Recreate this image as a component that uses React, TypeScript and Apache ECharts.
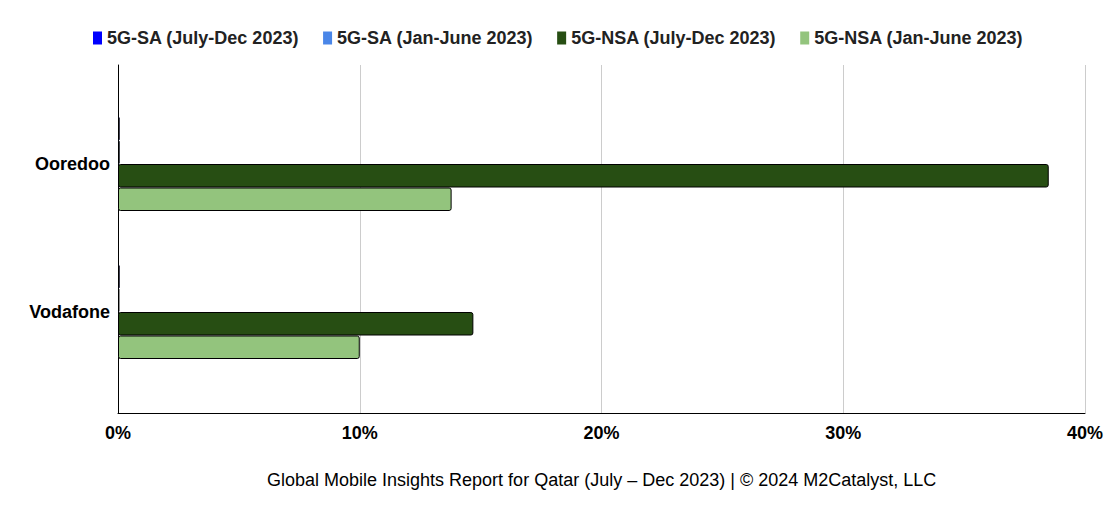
import React, { useEffect, useRef } from "react";
import * as echarts from "echarts";

const categories = ["Ooredoo", "Vodafone"];
const seriesNames = [
  "5G-SA (July-Dec 2023)",
  "5G-SA (Jan-June 2023)",
  "5G-NSA (July-Dec 2023)",
  "5G-NSA (Jan-June 2023)",
];
const saJulDec = [0.0007, 0.0007];
const saJanJun = [0.0007, 0.0006];
const nsaJulDec = [0.385, 0.147];
const nsaJanJun = [0.138, 0.1];
const colors = ["#0000ff", "#4a86e8", "#274e13", "#93c47d"];
const xTicks = [0, 0.1, 0.2, 0.3, 0.4];

const FONT = "Arial, 'Liberation Sans', sans-serif";

export default function App() {
  const ref = useRef<HTMLDivElement>(null);
  useEffect(() => {
    document.body.style.margin = "0";
    const chart = echarts.init(ref.current!, undefined, { renderer: "svg" });
    const values = [saJulDec, saJanJun, nsaJulDec, nsaJanJun];
    chart.setOption({
      animation: false,
      backgroundColor: "#ffffff",
      textStyle: { fontFamily: FONT },
      legend: {
        top: 24,
        left: 88,
        itemWidth: 9,
        itemHeight: 13,
        itemGap: 24,
        icon: "rect",
        itemStyle: { borderWidth: 0 },
        textStyle: { fontFamily: FONT, fontSize: 18, fontWeight: "bold", color: "#222" },
        data: seriesNames,
      },
      grid: [
        { left: 118, top: 65, width: 967, height: 348 },
        { left: 118, top: 90, width: 967, height: 296 },
      ],
      xAxis: [
        {
          gridIndex: 0,
          type: "value",
          min: xTicks[0],
          max: xTicks[xTicks.length - 1],
          interval: 0.1,
          axisLine: { show: true, lineStyle: { color: "#000", width: 1 } },
          axisTick: { show: false },
          splitLine: { show: true, lineStyle: { color: "#cccccc", width: 1 } },
          axisLabel: {
            formatter: (v: number) => Math.round(v * 100) + "%",
            fontFamily: FONT,
            fontSize: 18,
            fontWeight: "bold",
            color: "#000",
            margin: 11,
          },
        },
        {
          gridIndex: 1,
          type: "value",
          min: xTicks[0],
          max: xTicks[xTicks.length - 1],
          show: false,
        },
      ],
      yAxis: [
        {
          gridIndex: 0,
          type: "category",
          data: categories,
          axisLine: { show: true, lineStyle: { color: "#000", width: 1 } },
          axisTick: { show: false },
          axisLabel: { show: false },
          splitLine: { show: false },
        },
        {
          gridIndex: 1,
          type: "category",
          inverse: true,
          data: categories,
          axisLine: { show: false },
          axisTick: { show: false },
          axisLabel: {
            fontFamily: FONT,
            fontSize: 18,
            fontWeight: "bold",
            color: "#000",
            margin: 8,
          },
        },
      ],
      series: seriesNames.map((name, i) => ({
        name,
        type: "bar",
        xAxisIndex: 1,
        yAxisIndex: 1,
        data: values[i],
        barWidth: 23.5,
        barGap: "0%",
        itemStyle: {
          color: colors[i],
          borderColor: "#000",
          borderWidth: 1,
          borderRadius: 2,
        },
      })),
      graphic: [
        {
          type: "text",
          left: 267,
          top: 471,
          style: {
            text: "Global Mobile Insights Report for Qatar (July – Dec 2023) | © 2024 M2Catalyst, LLC",
            fontFamily: FONT,
            fontSize: 18,
            fill: "#000",
          },
        },
      ],
    });
    return () => chart.dispose();
  }, []);
  return <div ref={ref} style={{ width: 1110, height: 517 }} />;
}
